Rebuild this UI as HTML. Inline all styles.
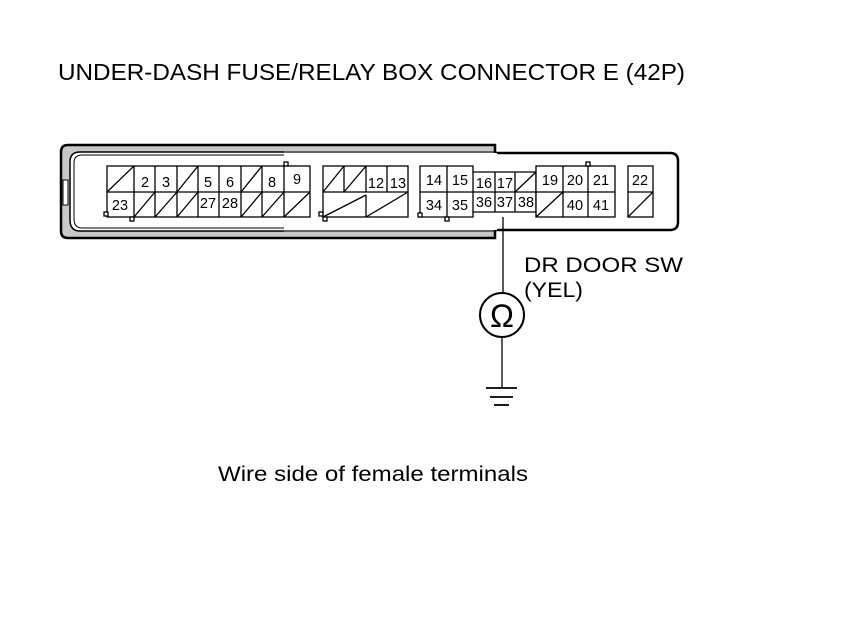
<!DOCTYPE html>
<html><head><style>html,body{margin:0;padding:0;background:#fff}svg{display:block}</style></head><body>
<svg width="860" height="630" viewBox="0 0 860 630" xmlns="http://www.w3.org/2000/svg" font-family="Liberation Sans, Arial, sans-serif">
<rect width="860" height="630" fill="#fff"/>
<text x="58" y="80" font-size="23" textLength="627" lengthAdjust="spacingAndGlyphs">UNDER-DASH FUSE/RELAY BOX CONNECTOR E (42P)</text>
<path d="M68,145 H495 V238 H68 Q61,238 61,231 V152 Q61,145 68,145 Z" fill="#c8c8c8" stroke="#000" stroke-width="2.5"/>
<path d="M495,153 H670 Q678,153 678,161 V222 Q678,230 670,230 H495" fill="#fff" stroke="#000" stroke-width="2.5"/>
<rect x="490" y="154" width="8" height="75" fill="#fff"/>
<path d="M284,152 H80 Q70,152 70,162 V220 Q70,231 80,231 H284" fill="#fff" stroke="#000" stroke-width="1.5"/>
<rect x="283" y="153" width="214" height="77" fill="#fff"/>
<path d="M284,155 H82 Q74,155 74,163 V219 Q74,228 82,228 H284" fill="none" stroke="#000" stroke-width="1"/>
<line x1="284" y1="152" x2="495" y2="152" stroke="#000" stroke-width="1"/>
<line x1="284" y1="231" x2="495" y2="231" stroke="#000" stroke-width="1"/>
<rect x="63" y="180" width="5" height="25" fill="#fff" stroke="#000" stroke-width="1"/>
<g stroke="#000" stroke-width="1.3" fill="#fff">
<rect x="107" y="166" width="203" height="51"/>
<line x1="107" y1="192" x2="310" y2="192"/>
<line x1="134" y1="166" x2="134" y2="217"/><line x1="155" y1="166" x2="155" y2="217"/>
<line x1="177" y1="166" x2="177" y2="217"/><line x1="198" y1="166" x2="198" y2="217"/>
<line x1="219" y1="166" x2="219" y2="217"/><line x1="241" y1="166" x2="241" y2="217"/>
<line x1="262" y1="166" x2="262" y2="217"/><line x1="284" y1="166" x2="284" y2="217"/>
<line x1="107" y1="192" x2="134" y2="166"/>
<line x1="177" y1="192" x2="198" y2="166"/>
<line x1="241" y1="192" x2="262" y2="166"/>
<line x1="134" y1="217" x2="155" y2="192"/><line x1="155" y1="217" x2="177" y2="192"/>
<line x1="177" y1="217" x2="198" y2="192"/><line x1="241" y1="217" x2="262" y2="192"/>
<line x1="262" y1="217" x2="284" y2="192"/><line x1="284" y1="217" x2="310" y2="192"/>
<rect x="323" y="166" width="85" height="51"/>
<line x1="323" y1="192" x2="408" y2="192"/>
<line x1="344" y1="166" x2="344" y2="192"/><line x1="366" y1="166" x2="366" y2="192"/><line x1="387" y1="166" x2="387" y2="192"/>
<line x1="323" y1="192" x2="344" y2="166"/><line x1="344" y1="192" x2="366" y2="166"/>
<line x1="323" y1="217" x2="366" y2="195"/><line x1="366" y1="217" x2="408" y2="192"/>
<line x1="366" y1="195" x2="366" y2="217"/>
<path d="M420,166 H473 V172 H536 V212 H473 V217 H420 Z"/>
<line x1="420" y1="192" x2="536" y2="192"/>
<line x1="447" y1="166" x2="447" y2="217"/><line x1="473" y1="172" x2="473" y2="212"/>
<line x1="495" y1="172" x2="495" y2="212"/><line x1="515" y1="172" x2="515" y2="212"/>
<line x1="515" y1="192" x2="536" y2="172"/>
<rect x="536" y="166" width="79" height="51"/>
<line x1="536" y1="192" x2="615" y2="192"/>
<line x1="563" y1="166" x2="563" y2="217"/><line x1="588" y1="166" x2="588" y2="217"/>
<line x1="536" y1="217" x2="563" y2="192"/>
<rect x="628" y="166" width="25" height="51"/>
<line x1="628" y1="192" x2="653" y2="192"/>
<line x1="628" y1="217" x2="653" y2="192"/>
<rect x="284" y="162" width="4" height="4"/><rect x="104" y="212" width="4" height="4"/>
<rect x="130" y="217" width="4" height="4"/><rect x="319" y="212" width="4" height="4"/>
<rect x="323" y="217" width="4" height="4"/><rect x="418" y="213" width="4" height="4"/>
<rect x="445" y="217" width="4" height="4"/><rect x="586" y="162" width="4" height="4"/>
</g>
<g font-size="14.5" text-anchor="middle">
<text x="145" y="187">2</text><text x="166" y="187">3</text><text x="208" y="187">5</text><text x="230" y="187">6</text><text x="272" y="187">8</text><text x="297" y="184">9</text>
<text x="120" y="210">23</text><text x="208" y="208">27</text><text x="230" y="208">28</text>
<text x="376" y="188">12</text><text x="398" y="188">13</text>
<text x="434" y="185">14</text><text x="460" y="185">15</text><text x="484" y="188">16</text><text x="505" y="188">17</text>
<text x="434" y="210">34</text><text x="460" y="210">35</text><text x="484" y="207">36</text><text x="505" y="207">37</text><text x="526" y="207">38</text>
<text x="550" y="185">19</text><text x="575" y="185">20</text><text x="601" y="185">21</text>
<text x="575" y="210">40</text><text x="601" y="210">41</text><text x="640" y="185">22</text>
</g>
<line x1="503" y1="217" x2="503" y2="292" stroke="#000" stroke-width="1.3"/>
<circle cx="502" cy="315" r="22" fill="#fff" stroke="#000" stroke-width="2"/>
<text x="502" y="327" font-size="32" text-anchor="middle">Ω</text>
<line x1="502" y1="337" x2="502" y2="388" stroke="#000" stroke-width="1.3"/>
<g stroke="#000" stroke-width="1.8"><line x1="486" y1="388" x2="517" y2="388"/><line x1="490" y1="397" x2="513" y2="397"/><line x1="494" y1="405" x2="509" y2="405"/></g>
<text x="524" y="272" font-size="21" textLength="159" lengthAdjust="spacingAndGlyphs">DR DOOR SW</text>
<text x="524" y="297" font-size="21" textLength="59" lengthAdjust="spacingAndGlyphs">(YEL)</text>
<text x="218" y="481" font-size="21" textLength="310" lengthAdjust="spacingAndGlyphs">Wire side of female terminals</text>
</svg>
</body></html>
